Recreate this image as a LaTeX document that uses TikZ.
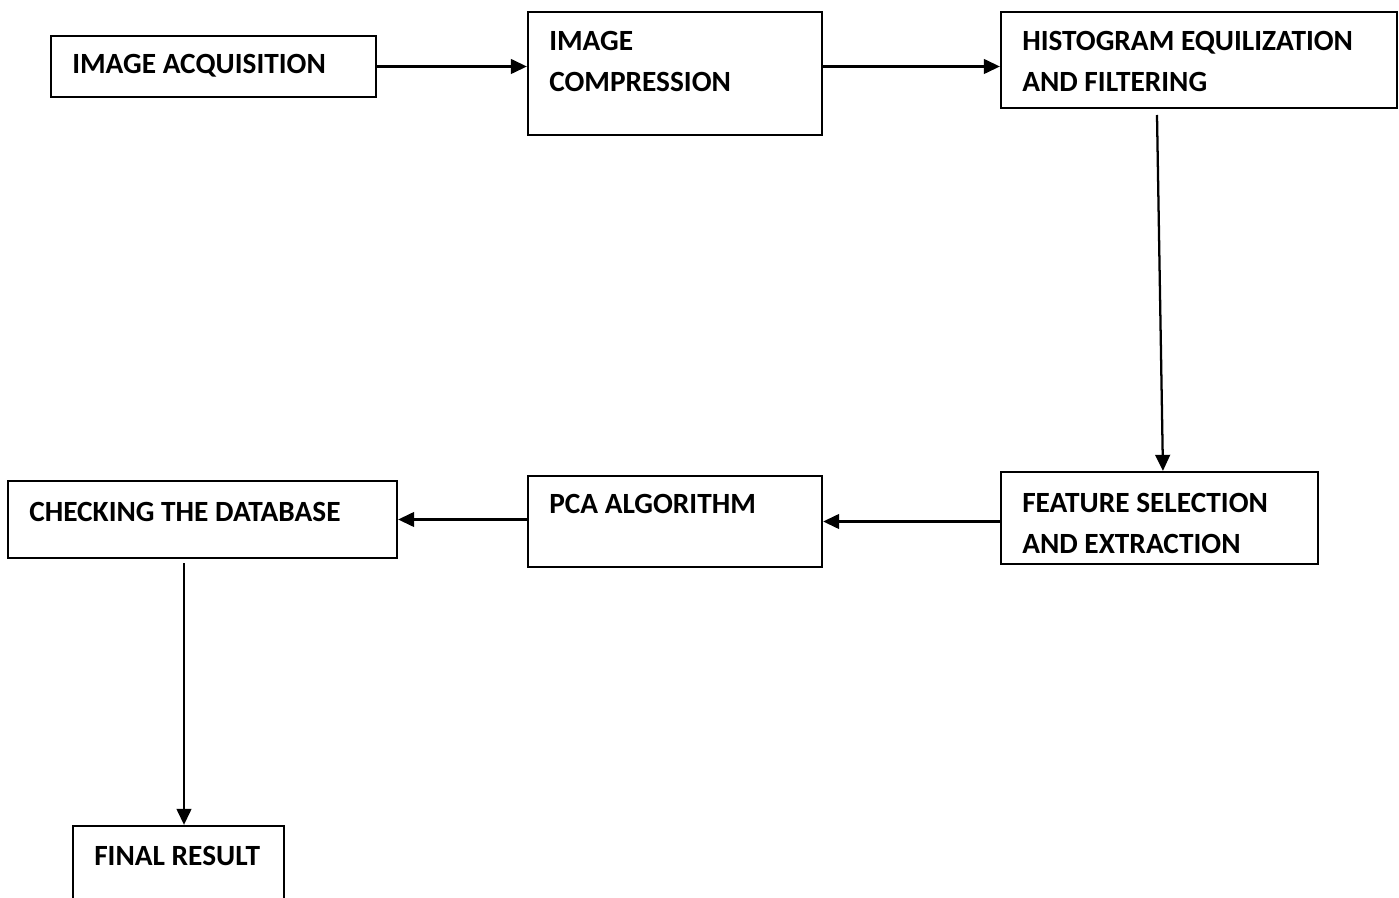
\documentclass[tikz,border=0pt]{standalone}
\usepackage{fontspec}
\setmainfont{Carlito}
\usetikzlibrary{arrows.meta,fit}
\begin{document}
\begin{tikzpicture}[x=0.75pt,y=-0.75pt,
  box/.style={draw=black,line width=1.7pt,inner sep=0pt},
  lbl/.style={inner sep=0pt,anchor=base west,align=left,
    font=\fontsize{22}{31.1}\selectfont\bfseries},
  flow/.style={line width=1.7pt,-{Triangle[length=12pt,width=11pt]}}]
\useasboundingbox (0,0) rectangle (1399,898);
\clip (0,0) rectangle (1399,898);

% boxes
\node[box,fit={(51,36) (376,97)}] (A) {};
\node[box,fit={(528,12) (822,135)}] (B) {};
\node[box,fit={(1001,12) (1397,108)}] (C) {};
\node[box,fit={(1001,472) (1318,564)}] (D) {};
\node[box,fit={(528,476) (822,567)}] (E) {};
\node[box,fit={(8,481) (397,558)}] (F) {};
\node[box,fit={(73,826) (284,920)}] (G) {};

% labels (a two-line label is placed by its last baseline)
\node[lbl] (tA) at (72,74) {IMAGE ACQUISITION};
\node[lbl] (tB) at (549,91.5) {IMAGE\\COMPRESSION};
\node[lbl] (tC) at (1022,91.5) {HISTOGRAM EQUILIZATION\\AND FILTERING};
\node[lbl] (tD) at (1022,553.5) {FEATURE SELECTION\\AND EXTRACTION};
\node[lbl] (tE) at (549,513) {PCA ALGORITHM};
\node[lbl] (tF) at (29,521) {CHECKING THE DATABASE};
\node[lbl] (tG) at (94,865) {FINAL RESULT};

% connectors
\coordinate (cs) at (1157,115);
\coordinate (fs) at (184,563);
\draw[flow] (A.east) -- (A.east -| B.west);
\draw[flow] (B.east |- A.east) -- (C.west |- A.east);
\draw[flow] (cs) -- ([xshift=2.6pt]D.north);
\draw[flow] (D.west |- E.east) -- (E.east);
\draw[flow] (E.west |- F.east) -- (F.east);
\draw[flow] (fs) -- (G.north -| fs);
\end{tikzpicture}
\end{document}
